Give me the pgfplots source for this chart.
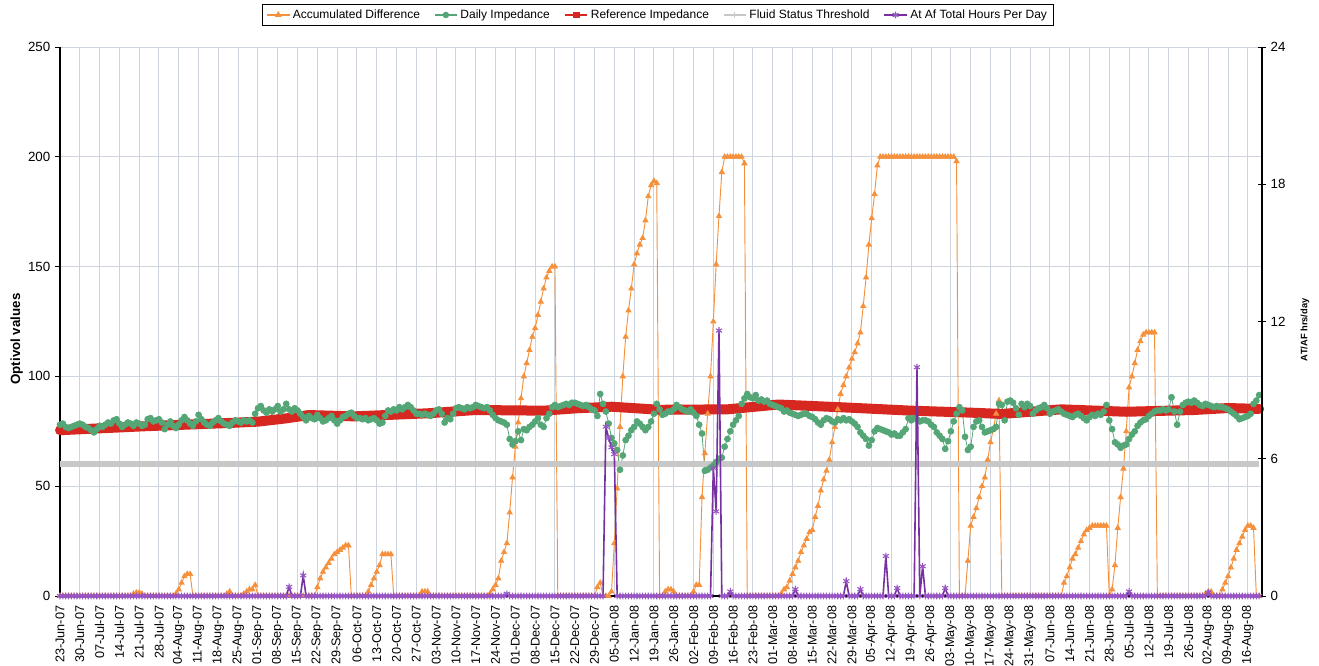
\documentclass[border=0pt]{standalone}
\usepackage{fontspec}
\setmainfont{Liberation Sans}
\usepackage{pgfplots}
\usepackage{pgfplotstable}
\pgfplotsset{compat=1.18}
\definecolor{accor}{RGB}{245,145,60}
\definecolor{impgr}{RGB}{84,166,118}
\definecolor{refrd}{RGB}{214,40,32}
\definecolor{thrgy}{RGB}{200,200,200}
\definecolor{afpu}{RGB}{118,48,160}
\definecolor{afst}{RGB}{150,85,195}
\definecolor{gridc}{RGB}{205,212,222}

\pgfplotstableread[row sep=\\]{
d acc imp hrs\\
0 0 78 0\\ 1 0 78.5 0\\ 2 0 77 0\\ 3 0 76.5 0\\ 4 0 77 0\\ 5 0 77.5 0\\ 6 0 78 0\\ 7 0 78.5 0\\ 8 0 78 0\\ 9 0 77 0\\
10 0 76.5 0\\ 11 0 75.5 0\\ 12 0 74.5 0\\ 13 0 76 0\\ 14 0 77.5 0\\ 15 0 77 0\\ 16 0 78 0\\ 17 0 79 0\\ 18 0 78.5 0\\ 19 0 80 0\\
20 0 80.5 0\\ 21 0 78.5 0\\ 22 0 77 0\\ 23 0 78 0\\ 24 0 79 0\\ 25 0 78.5 0\\ 26 1 77.5 0\\ 27 1.5 79 0\\ 28 1.5 78.5 0\\ 29 1 77.5 0\\
30 0 78 0\\ 31 0 80.5 0\\ 32 0 81 0\\ 33 0 79.5 0\\ 34 0 80 0\\ 35 0 80.5 0\\ 36 0 79 0\\ 37 0 76 0\\ 38 0 78 0\\ 39 0 79.5 0\\
40 0 77.5 0\\ 41 1 76.5 0\\ 42 3 78 0\\ 43 6 80 0\\ 44 9 81.5 0\\ 45 10 80 0\\ 46 10 78.5 0\\ 47 0 77.5 0\\ 48 0 79.5 0\\ 49 0 82.5 0\\
50 0 80.5 0\\ 51 0 79 0\\ 52 0 78 0\\ 53 0 77.5 0\\ 54 0 79 0\\ 55 0 80 0\\ 56 0 81 0\\ 57 0 79.5 0\\ 58 0 78.5 0\\ 59 1 78 0\\
60 2 77.5 0\\ 61 0 79 0\\ 62 0 80 0\\ 63 0 79.5 0\\ 64 0 79 0\\ 65 1 80 0\\ 66 2 79.5 0\\ 67 3 80 0\\ 68 3 79 0\\ 69 5 83 0\\
70 0 85.5 0\\ 71 0 86.5 0\\ 72 0 84.5 0\\ 73 0 83.5 0\\ 74 0 85 0\\ 75 0 84 0\\ 76 0 85 0\\ 77 0 86.5 0\\ 78 0 84 0\\ 79 0 85 0\\
80 0 87.5 0\\ 81 0 85 0.4\\ 82 0 84 0\\ 83 0 85.5 0\\ 84 0 84.5 0\\ 85 0 83 0\\ 86 0 81.5 0.9\\ 87 0 80 0\\ 88 0 82 0\\ 89 0 81 0\\
90 0 80.5 0\\ 91 4 82.5 0\\ 92 8 81 0\\ 93 11 79.5 0\\ 94 13 80 0\\ 95 15 81 0\\ 96 17 82 0\\ 97 19 80 0\\ 98 20 78.5 0\\ 99 21 80 0\\
100 22 81.5 0\\ 101 23 82 0\\ 102 23 83 0\\ 103 0 83.5 0\\ 104 0 82 0\\ 105 0 81 0\\ 106 0 81 0\\ 107 0 80.5 0\\ 108 0 81 0\\ 109 2 80 0\\
110 5 80.5 0\\ 111 8 81 0\\ 112 11 80 0\\ 113 14 78.5 0\\ 114 19 79 0\\ 115 19 82 0\\ 116 19 84.5 0\\ 117 19 84 0\\ 118 0 85 0\\ 119 0 84.5 0\\
120 0 86 0\\ 121 0 85 0\\ 122 0 86 0\\ 123 0 87 0\\ 124 0 86 0\\ 125 0 84.5 0\\ 126 0 83 0\\ 127 0 83 0\\ 128 2 82.5 0\\ 129 2 83 0\\
130 2 82.5 0\\ 131 0 82 0\\ 132 0 83 0\\ 133 0 84.5 0\\ 134 0 85 0\\ 135 0 83 0\\ 136 0 79 0\\ 137 0 81 0\\ 138 0 80.5 0\\ 139 0 83 0\\
140 0 85.5 0\\ 141 0 86 0\\ 142 0 85.5 0\\ 143 0 85 0\\ 144 0 86 0\\ 145 0 85.5 0\\ 146 0 86 0\\ 147 0 87 0\\ 148 0 86.5 0\\ 149 0 86 0\\
150 0 85.5 0\\ 151 0 86 0\\ 152 1 84.5 0\\ 153 3 82.5 0\\ 154 5 81 0\\ 155 8 80 0\\ 156 16 79.5 0\\ 157 20 79 0\\ 158 24 78 0.1\\ 159 38 71.5 0\\
160 54 69 0\\ 161 68 70.5 0\\ 162 79 75 0\\ 163 90 71 0\\ 164 100 76 0\\ 165 106 75.5 0\\ 166 112 77 0\\ 167 118 78 0\\ 168 122 79.5 0\\ 169 128 81 0\\
170 134 78 0\\ 171 140 77 0\\ 172 145 81 0\\ 173 148 83 0\\ 174 150 86 0\\ 175 150 87 0\\ 176 0 86 0\\ 177 0 86.5 0\\ 178 0 87 0\\ 179 0 87.5 0\\
180 0 87 0\\ 181 0 88 0\\ 182 0 88 0\\ 183 0 87.5 0\\ 184 0 87 0\\ 185 0 86.5 0\\ 186 0 87 0\\ 187 0 86 0\\ 188 0 85 0\\ 189 0 84.5 0\\
190 4 82 0\\ 191 6 92 0\\ 192 0 87.5 0\\ 193 0 84 7.4\\ 194 0 78.5 6.9\\ 195 2 72 6.5\\ 196 24 69.5 6.2\\ 197 49 66.5 0\\ 198 77 57.5 0\\ 199 100 64 0\\
200 118 71 0\\ 201 130 73 0\\ 202 140 75.5 0\\ 203 151 77 0\\ 204 156 79.5 0\\ 205 160 78.5 0\\ 206 163 77 0\\ 207 171 75.5 0\\ 208 182 77 0\\ 209 187 79.5 0\\
210 189 83 0\\ 211 188 87.5 0\\ 212 0 85 0\\ 213 0 82.5 0\\ 214 2 83 0\\ 215 3 84 0\\ 216 3 84 0\\ 217 2 85 0\\ 218 0 87 0\\ 219 0 86 0\\
220 0 85 0\\ 221 0 84.5 0\\ 222 0 84 0\\ 223 0 85 0\\ 224 2 83.5 0\\ 225 5 82 0\\ 226 5 78 0\\ 227 45 74 0\\ 228 65 57 0\\ 229 83 57.5 0\\
230 100 58.5 0\\ 231 125 59.5 5.6\\ 232 151 61 3.7\\ 233 173 62.5 11.6\\ 234 193 63 0\\ 235 200 68 0\\ 236 200 71.5 0\\ 237 200 75 0.2\\ 238 200 78 0\\ 239 200 80 0\\
240 200 82 0\\ 241 200 87.5 0\\ 242 197 90 0\\ 243 0 92 0\\ 244 0 90.5 0\\ 245 0 90 0\\ 246 0 91.5 0\\ 247 0 89 0\\ 248 0 89.5 0\\ 249 0 88.5 0\\
250 0 89 0\\ 251 0 87.5 0\\ 252 0 87 0\\ 253 0 86.5 0\\ 254 0 86 0\\ 255 1 85.5 0\\ 256 3 84 0\\ 257 4 84.5 0\\ 258 7 83.5 0\\ 259 10 83 0\\
260 13 82.5 0.3\\ 261 16 82 0\\ 262 20 82.5 0\\ 263 23 83 0\\ 264 26 83 0\\ 265 29 82 0\\ 266 30 81.5 0\\ 267 36 80.5 0\\ 268 41 79 0\\ 269 48 78 0\\
270 53 80 0\\ 271 57 81 0\\ 272 62 80.5 0\\ 273 70 79.5 0\\ 274 77 79 0\\ 275 85 80.5 0\\ 276 92 80 0\\ 277 96 81 0\\ 278 100 80 0.65\\ 279 104 80.5 0\\
280 108 79.5 0\\ 281 111 78.5 0\\ 282 115 77 0\\ 283 120 74.5 0.3\\ 284 132 73 0\\ 285 145 71.5 0\\ 286 160 68.5 0\\ 287 172 71 0\\ 288 183 75 0\\ 289 196 76.5 0\\
290 200 76 0\\ 291 200 75.5 0\\ 292 200 75 1.75\\ 293 200 74.5 0\\ 294 200 73.5 0\\ 295 200 74 0\\ 296 200 73 0.35\\ 297 200 73 0\\ 298 200 74.5 0\\ 299 200 76 0\\
300 200 81 0\\ 301 200 80 0\\ 302 200 81 0\\ 303 200 80.5 10\\ 304 200 79.5 0\\ 305 200 80 1.3\\ 306 200 80 0\\ 307 200 79.5 0\\ 308 200 78 0\\ 309 200 77 0\\
310 200 74.5 0\\ 311 200 73 0\\ 312 200 71.5 0\\ 313 200 67 0.35\\ 314 200 70.5 0\\ 315 200 75 0\\ 316 200 79.5 0\\ 317 198 83 0\\ 318 0 86 0\\ 319 0 84.5 0\\
320 0 72.5 0\\ 321 16 66.5 0\\ 322 32 68 0\\ 323 36 77 0\\ 324 40 79.5 0\\ 325 45 80 0\\ 326 50 77 0\\ 327 54 74.5 0\\ 328 62 75 0\\ 329 70 75.5 0\\
330 76 76 0\\ 331 83 77 0\\ 332 89 87.5 0\\ 333 0 87 0\\ 334 0 80 0\\ 335 0 88.5 0\\ 336 0 89 0\\ 337 0 88 0\\ 338 0 85.5 0\\ 339 0 82.5 0\\
340 0 87.5 0\\ 341 0 86 0\\ 342 0 87.5 0\\ 343 0 86.5 0\\ 344 0 83 0\\ 345 0 84.5 0\\ 346 0 85.5 0\\ 347 0 86 0\\ 348 0 87 0\\ 349 0 85.5 0\\
350 0 83 0\\ 351 0 84 0\\ 352 0 84.5 0\\ 353 0 85 0\\ 354 0 84 0\\ 355 6 83 0\\ 356 9 82.5 0\\ 357 13 82 0\\ 358 17 81.5 0\\ 359 19 82.5 0\\
360 22 83 0\\ 361 25 82 0\\ 362 28 81 0\\ 363 30 80 0\\ 364 31 81.5 0\\ 365 32 82.5 0\\ 366 32 82 0\\ 367 32 83 0\\ 368 32 82.5 0\\ 369 32 84 0\\
370 32 87 0\\ 371 0 80 0\\ 372 3 76 0\\ 373 14 70 0\\ 374 31 69 0\\ 375 45 67.5 0\\ 376 58 68.5 0\\ 377 75 69 0\\ 378 95 71.5 0.2\\ 379 100 73.5 0\\
380 106 75 0\\ 381 112 77.5 0\\ 382 116 79 0\\ 383 119 80 0\\ 384 120 80.5 0\\ 385 120 82 0\\ 386 120 83 0\\ 387 120 84 0\\ 388 0 84.5 0\\ 389 0 84.5 0\\
390 0 85 0\\ 391 0 84.5 0\\ 392 0 85 0\\ 393 0 90.5 0\\ 394 0 84 0\\ 395 0 78 0\\ 396 0 84 0\\ 397 0 87 0\\ 398 0 88 0\\ 399 0 88.5 0\\
400 0 88 0\\ 401 0 89 0\\ 402 0 88 0\\ 403 0 87 0\\ 404 0 86.5 0\\ 405 1 87.5 0\\ 406 2 87 0.15\\ 407 2 86.5 0\\ 408 0 86 0\\ 409 0 86.5 0\\
410 0 86 0\\ 411 3 86 0\\ 412 6 85.5 0\\ 413 9 85 0\\ 414 13 84 0\\ 415 17 83 0\\ 416 21 82 0\\ 417 24 80.5 0\\ 418 27 81 0\\ 419 30 81.5 0\\
420 32 82 0\\ 421 32 83 0\\ 422 31 87.5 0\\ 423 0 89 0\\ 424 0 91.5 0\\
}\daily

\pgfplotstableread[row sep=\\]{
d ref\\
0 75.5\\ 30 77.3\\ 60 78.8\\ 70 79.4\\ 80 80.9\\ 88 82.4\\ 104 81.8\\ 130 83.2\\ 147 84.7\\ 171 84.4\\ 183 85.5\\ 195 86.2\\
212 84.8\\ 236 85\\ 254 87.2\\ 277 85.9\\ 301 84.4\\ 322 83.5\\ 333 82.9\\ 354 85\\ 377 83.9\\ 401 84.7\\ 413 85.6\\ 424 85.2\\
}\reftab

\begin{document}
\begin{tikzpicture}
\useasboundingbox (-45pt,-51.75pt) rectangle (944.25pt,447pt);
\begin{axis}[
  at={(0,0)}, anchor=south west, scale only axis,
  width=901.5pt, height=411.75pt,
  xmin=0, xmax=425, ymin=0, ymax=250,
  clip=false,
  axis y line*=left, axis x line*=bottom,
  axis line style={black, line width=1pt},
  xtick={0,7,...,420},
  xticklabels={23-Jun-07,30-Jun-07,07-Jul-07,14-Jul-07,21-Jul-07,28-Jul-07,04-Aug-07,11-Aug-07,18-Aug-07,25-Aug-07,01-Sep-07,08-Sep-07,15-Sep-07,22-Sep-07,29-Sep-07,06-Oct-07,13-Oct-07,20-Oct-07,27-Oct-07,03-Nov-07,10-Nov-07,17-Nov-07,24-Nov-07,01-Dec-07,08-Dec-07,15-Dec-07,22-Dec-07,29-Dec-07,05-Jan-08,12-Jan-08,19-Jan-08,26-Jan-08,02-Feb-08,09-Feb-08,16-Feb-08,23-Feb-08,01-Mar-08,08-Mar-08,15-Mar-08,22-Mar-08,29-Mar-08,05-Apr-08,12-Apr-08,19-Apr-08,26-Apr-08,03-May-08,10-May-08,17-May-08,24-May-08,31-May-08,07-Jun-08,14-Jun-08,21-Jun-08,28-Jun-08,05-Jul-08,12-Jul-08,19-Jul-08,26-Jul-08,02-Aug-08,09-Aug-08,16-Aug-08},
  xticklabel style={rotate=90, anchor=east, font=\fontsize{9.5}{10}\selectfont},
  xtick style={draw=none},
  ytick={0,50,...,250},
  yticklabel style={font=\fontsize{10}{11}\selectfont},
  /pgf/number format/assume math mode=true,
  tick align=outside, major tick length=3.75pt,
  ytick style={black, line width=0.6pt},
  grid=major,
  major grid style={draw=gridc, line width=0.75pt},
  ylabel={Optivol values},
  ylabel style={at={(axis description cs:-0.036,0.468)}, anchor=center, font=\fontsize{10}{12}\selectfont\bfseries},
  legend style={at={(axis description cs:0.4975,1.0583)}, anchor=center, draw=black, line width=0.6pt,
     font=\fontsize{9}{10}\selectfont, inner xsep=3pt, inner ysep=2pt,
     /tikz/every even column/.append style={column sep=8.5pt}},
  legend columns=5,
  legend cell align=left,
]
\addplot[forget plot, accor, line width=0.7pt, mark=triangle*, mark size=2.1pt, mark options={accor}] table[x=d, y=acc]{\daily};
\addplot[forget plot, impgr, line width=0.6pt, mark=*, mark size=2.2pt, mark options={impgr}] table[x=d, y=imp]{\daily};
\addplot[forget plot, refrd, line width=7.5pt, line join=round, line cap=round] table[x=d, y=ref]{\reftab};
\addplot[forget plot, thrgy, line width=4.5pt] coordinates {(0,60) (424,60)};

\addlegendimage{accor, line width=0.8pt, mark=triangle*, mark size=2.2pt}
\addlegendentry{Accumulated Difference}
\addlegendimage{impgr, line width=0.8pt, mark=*, mark size=2pt}
\addlegendentry{Daily Impedance}
\addlegendimage{refrd, line width=1.2pt, mark=square*, mark size=2pt}
\addlegendentry{Reference Impedance}
\addlegendimage{thrgy, line width=0.8pt, mark=+, mark size=2pt}
\addlegendentry{Fluid Status Threshold}
\addlegendimage{afpu, line width=1pt, mark=asterisk, mark size=2.5pt, mark options={afst}}
\addlegendentry{At Af Total Hours Per Day}
\end{axis}

\begin{axis}[
  at={(0,0)}, anchor=south west, scale only axis,
  width=901.5pt, height=411.75pt,
  xmin=0, xmax=425, ymin=0, ymax=24,
  clip=false,
  hide x axis,
  axis y line*=right,
  axis line style={black, line width=1pt},
  ytick={0,6,12,18,24},
  yticklabel style={font=\fontsize{10}{11}\selectfont},
  /pgf/number format/assume math mode=true,
  tick align=center, major tick length=6pt,
  ytick style={black, line width=0.6pt},
  ylabel={AT/AF hrs/day},
  ylabel style={at={(axis description cs:1.0358,0.485)}, anchor=center, font=\fontsize{7}{8}\selectfont\bfseries},
]
\addplot[afpu, line width=1.2pt, mark=asterisk, mark size=2.6pt, mark options={afst, line width=0.8pt}] table[x=d, y=hrs]{\daily};
\end{axis}
\end{tikzpicture}
\end{document}
